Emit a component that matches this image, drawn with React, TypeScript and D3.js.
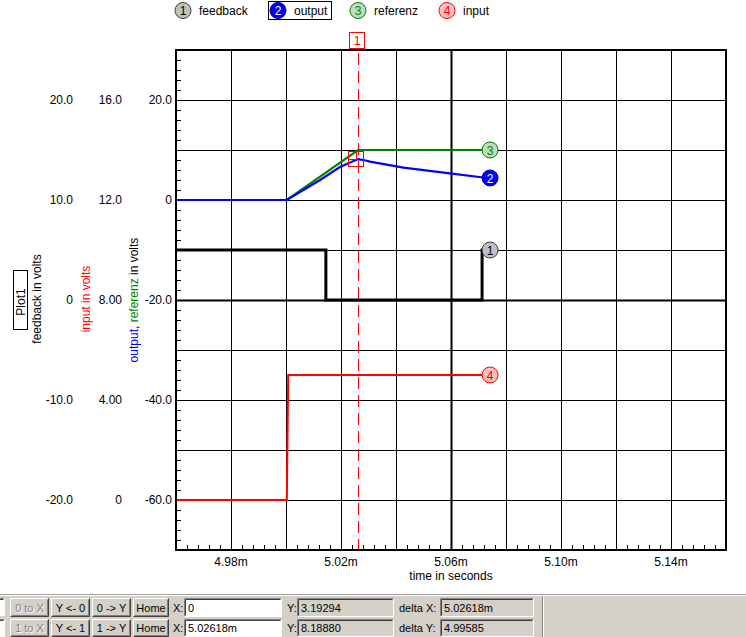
import React from 'react';
import * as d3 from 'd3';

const W = 746, H = 637;
const FONT = '"Liberation Sans", Arial, sans-serif';

// x axis (time in ms)
const xDomain = [4.96, 5.16];
const xTickValues = [4.98, 5.02, 5.06, 5.10, 5.14];
const xTickLabels = ['4.98m', '5.02m', '5.06m', '5.10m', '5.14m'];

// output / referenz axis
const outDomain = [-70, 30];
const outTickValues = [20, 0, -20, -40, -60];
const outTickLabels = ['20.0', '0', '-20.0', '-40.0', '-60.0'];
// input axis
const inDomain = [-2, 18];
const inTickValues = [16, 12, 8, 4, 0];
const inTickLabels = ['16.0', '12.0', '8.00', '4.00', '0'];
// feedback axis
const fbDomain = [-25, 25];
const fbTickValues = [20, 10, 0, -10, -20];
const fbTickLabels = ['20.0', '10.0', '0', '-10.0', '-20.0'];

// series
const feedbackT = [4.96, 5.0145, 5.0145, 5.0713, 5.0713, 5.0742];
const feedbackV = [5, 5, 0, 0, 5, 5];
const inputT = [4.96, 5.0003, 5.0008, 5.0742];
const inputV = [0, 0, 5, 5];
const referenzT = [4.96, 5.0003, 5.0262, 5.0742];
const referenzV = [0, 0, 10, 10];
const outputT = [4.96, 5.0003, 5.0124, 5.0196, 5.0262, 5.0290, 5.0305, 5.0427, 5.0596, 5.0717, 5.0742];
const outputV = [0, 0, 4.0, 6.6, 8.19, 7.9, 7.67, 6.47, 5.33, 4.5, 4.4];

const cursorT = 5.02618;
const cursorOut = 8.1888;

const legendNames = ['feedback', 'output', 'referenz', 'input'];

const L = 176, R = 726, T = 50, B = 550;

const x = d3.scaleLinear().domain(xDomain).range([L, R]);
const yOut = d3.scaleLinear().domain(outDomain).range([B, T]);
const yIn = d3.scaleLinear().domain(inDomain).range([B, T]);
const yFb = d3.scaleLinear().domain(fbDomain).range([B, T]);

const px = (v: number) => Math.round(v) + 0.5;

function Button({ x0, y0, w, h, label, disabled }: any) {
  return (
    <g>
      <rect x={x0} y={y0} width={w} height={h} fill="#d4d0c8" />
      <path d={`M${x0 + 0.5},${y0 + h - 0.5}V${y0 + 0.5}H${x0 + w - 0.5}`} stroke="#ffffff" fill="none" />
      <path d={`M${x0 + 0.5},${y0 + h - 0.5}H${x0 + w - 0.5}V${y0 + 0.5}`} stroke="#404040" fill="none" />
      <path d={`M${x0 + 1.5},${y0 + h - 1.5}H${x0 + w - 1.5}V${y0 + 1.5}`} stroke="#808080" fill="none" />
      {disabled && (
        <text x={x0 + w / 2 + 1} y={y0 + h / 2 + 1} textAnchor="middle" dominantBaseline="central" fontSize={11} fill="#ffffff">{label}</text>
      )}
      <text x={x0 + w / 2} y={y0 + h / 2} textAnchor="middle" dominantBaseline="central" fontSize={11} fill={disabled ? '#808080' : '#000'}>{label}</text>
    </g>
  );
}

function Field({ x0, y0, w, h, value, white }: any) {
  return (
    <g>
      <rect x={x0} y={y0} width={w} height={h} fill={white ? '#ffffff' : '#d4d0c8'} />
      <path d={`M${x0 + 0.5},${y0 + h - 0.5}V${y0 + 0.5}H${x0 + w - 0.5}`} stroke="#808080" fill="none" />
      <path d={`M${x0 + 1.5},${y0 + h - 1.5}V${y0 + 1.5}H${x0 + w - 1.5}`} stroke="#404040" fill="none" />
      <path d={`M${x0 + 0.5},${y0 + h - 0.5}H${x0 + w - 0.5}V${y0 + 0.5}`} stroke="#ffffff" fill="none" />
      <text x={x0 + 4} y={y0 + h / 2} dominantBaseline="central" fontSize={11} fill="#000">{value}</text>
    </g>
  );
}

function Marker({ cx, cy, n, fill, stroke, color }: any) {
  return (
    <g>
      <circle cx={cx} cy={cy} r={8} fill={fill} stroke={stroke} strokeWidth={1} />
      <text x={cx} y={cy + 0.5} textAnchor="middle" dominantBaseline="central" fontSize={12} fill={color}>{n}</text>
    </g>
  );
}

export default function App() {
  const line = (ts: number[], vs: number[], ys: any) =>
    d3.line<number>().x((_, i) => x(ts[i])).y((_, i) => ys(vs[i]))(ts.map((_, i) => i)) as string;

  const xGrid = d3.range(0, 11).map(i => xDomain[0] + i * 0.02);
  const xMinor = d3.range(0, 51).map(i => xDomain[0] + i * 0.004);
  const yGrid = d3.range(0, 11).map(i => outDomain[0] + i * 10);
  const yMinor = d3.range(0, 51).map(i => outDomain[0] + i * 2);

  const cx = x(cursorT);
  const endX = x(outputT[outputT.length - 1]);

  const styles = [
    { fill: '#c0c0c0', stroke: '#404040', color: '#000' },
    { fill: '#0000ff', stroke: '#0000a0', color: '#ffffff' },
    { fill: '#c0dcc0', stroke: '#008000', color: '#008000' },
    { fill: '#ffc0c0', stroke: '#ff0000', color: '#ff0000' },
  ];
  const legendX = [183, 278, 358, 447];

  return (
    <svg width={W} height={H} style={{ position: 'absolute', left: 0, top: 0, fontFamily: FONT }}>
      <rect x={0} y={0} width={W} height={H} fill="#ffffff" />

      {/* legend */}
      {legendNames.map((name, i) => (
        <g key={name}>
          <Marker cx={legendX[i]} cy={10.5} n={i + 1} {...styles[i]} />
          <text x={legendX[i] + 16} y={11} dominantBaseline="central" fontSize={12} fill="#000">{name}</text>
        </g>
      ))}
      <rect x={268.5} y={1.5} width={63} height={18} fill="none" stroke="#000" />

      {/* grid */}
      {xGrid.map((v, i) => (
        <line key={'xg' + i} x1={px(x(v))} x2={px(x(v))} y1={T} y2={B} stroke="#000" strokeWidth={i === 5 ? 2 : 1} />
      ))}
      {yGrid.map((v, i) => (
        <line key={'yg' + i} x1={L} x2={R} y1={px(yOut(v))} y2={px(yOut(v))} stroke="#000" strokeWidth={i === 5 ? 2 : 1} />
      ))}
      {xMinor.map((v, i) => (
        <line key={'xm' + i} x1={px(x(v))} x2={px(x(v))} y1={B} y2={B - 5} stroke="#000" />
      ))}
      {yMinor.map((v, i) => (
        <line key={'ym' + i} x1={L} x2={L + 5} y1={px(yOut(v))} y2={px(yOut(v))} stroke="#000" />
      ))}

      {/* cursor */}
      <line x1={px(cx)} x2={px(cx)} y1={T} y2={B} stroke="#ff0000" strokeDasharray="12 6" strokeDashoffset={-3} />

      {/* traces */}
      <path d={line(feedbackT, feedbackV, yFb)} fill="none" stroke="#000" strokeWidth={3} />
      <path d={line(inputT, inputV, yIn)} fill="none" stroke="#ff0000" strokeWidth={2} />
      <path d={line(referenzT, referenzV, yOut)} fill="none" stroke="#008000" strokeWidth={2.2} />
      <path d={line(outputT, outputV, yOut)} fill="none" stroke="#0000ff" strokeWidth={2.2} />

      {/* cursor boxes */}
      <rect x={Math.round(cx) - 9.5} y={Math.round(yOut(cursorOut)) - 7.5} width={15} height={15} fill="none" stroke="#ff0000" />
      <rect x={Math.round(cx) - 9.5} y={Math.round(yOut(cursorOut)) - 7.5} width={8} height={8} fill="none" stroke="#ff0000" />

      {/* end markers */}
      <Marker cx={endX} cy={yFb(feedbackV[feedbackV.length - 1])} n={1} {...styles[0]} />
      <Marker cx={endX} cy={yOut(outputV[outputV.length - 1])} n={2} {...styles[1]} />
      <Marker cx={endX} cy={yOut(referenzV[referenzV.length - 1])} n={3} {...styles[2]} />
      <Marker cx={endX} cy={yIn(inputV[inputV.length - 1])} n={4} {...styles[3]} />

      {/* frame */}
      <rect x={L} y={T} width={R - L} height={B - T} fill="none" stroke="#000" strokeWidth={2} />

      {/* cursor label */}
      <rect x={Math.round(cx) - 8.5} y={32.5} width={15} height={16} fill="#fff" stroke="#ff0000" />
      <text x={Math.round(cx) - 1} y={41} textAnchor="middle" dominantBaseline="central" fontSize={12} fill="#ff0000">1</text>

      {/* x labels */}
      {xTickValues.map((v, i) => (
        <text key={'xl' + i} x={x(v)} y={562} textAnchor="middle" dominantBaseline="central" fontSize={12} fill="#000">{xTickLabels[i]}</text>
      ))}
      <text x={x(5.06)} y={576} textAnchor="middle" dominantBaseline="central" fontSize={12} fill="#000">time in seconds</text>

      {/* y labels */}
      {outTickValues.map((v, i) => (
        <text key={'yo' + i} x={172} y={yOut(v)} textAnchor="end" dominantBaseline="central" fontSize={12} fill="#000">{outTickLabels[i]}</text>
      ))}
      {inTickValues.map((v, i) => (
        <text key={'yi' + i} x={122} y={yIn(v)} textAnchor="end" dominantBaseline="central" fontSize={12} fill="#000">{inTickLabels[i]}</text>
      ))}
      {fbTickValues.map((v, i) => (
        <text key={'yf' + i} x={73} y={yFb(v)} textAnchor="end" dominantBaseline="central" fontSize={12} fill="#000">{fbTickLabels[i]}</text>
      ))}

      {/* axis titles */}
      <g transform="translate(134,300) rotate(-90)">
        <text x={0} y={0} textAnchor="middle" dominantBaseline="central" fontSize={12}>
          <tspan fill="#0000ff">output, </tspan>
          <tspan fill="#008000">referenz</tspan>
          <tspan fill="#000"> in volts</tspan>
        </text>
      </g>
      <g transform="translate(86,299) rotate(-90)">
        <text x={0} y={0} textAnchor="middle" dominantBaseline="central" fontSize={12} fill="#ff0000">input in volts</text>
      </g>
      <g transform="translate(37,299) rotate(-90)">
        <text x={0} y={0} textAnchor="middle" dominantBaseline="central" fontSize={12} fill="#000">feedback in volts</text>
      </g>
      <rect x={13.5} y={270.5} width={14} height={59} fill="#fff" stroke="#000" />
      <g transform="translate(20.5,302) rotate(-90)">
        <text x={0} y={0} textAnchor="middle" dominantBaseline="central" fontSize={12} fill="#000">Plot1</text>
      </g>

      {/* toolbar */}
      <rect x={0} y={594} width={W} height={H - 594} fill="#d4d0c8" />
      <line x1={0} x2={W} y1={594.5} y2={594.5} stroke="#a0a0a0" />
      <line x1={0} x2={W} y1={595.5} y2={595.5} stroke="#ffffff" />
      <line x1={542.5} x2={542.5} y1={597} y2={H} stroke="#808080" />
      <line x1={543.5} x2={543.5} y1={597} y2={H} stroke="#ffffff" />

      <Field x0={-10} y0={598} w={15} h={18} value="" white />
      <Field x0={-10} y0={619} w={15} h={18} value="" white />

      <Button x0={10} y0={598} w={39} h={19} label="0 to X" disabled />
      <Button x0={51} y0={598} w={39} h={19} label="Y <- 0" />
      <Button x0={92} y0={598} w={39} h={19} label="0 -> Y" />
      <Button x0={133} y0={598} w={36} h={19} label="Home" />
      <text x={173} y={607.5} dominantBaseline="central" fontSize={11}>X:</text>
      <Field x0={184} y0={598} w={98} h={19} value="0" white />
      <text x={287} y={607.5} dominantBaseline="central" fontSize={11}>Y:</text>
      <Field x0={297} y0={598} w={97} h={19} value="3.19294" />
      <text x={399} y={607.5} dominantBaseline="central" fontSize={11}>delta X:</text>
      <Field x0={440} y0={598} w={94} h={19} value="5.02618m" />

      <Button x0={10} y0={619} w={39} h={18} label="1 to X" disabled />
      <Button x0={51} y0={619} w={39} h={18} label="Y <- 1" />
      <Button x0={92} y0={619} w={39} h={18} label="1 -> Y" />
      <Button x0={133} y0={619} w={36} h={18} label="Home" />
      <text x={173} y={628} dominantBaseline="central" fontSize={11}>X:</text>
      <Field x0={184} y0={619} w={98} h={18} value="5.02618m" white />
      <text x={287} y={628} dominantBaseline="central" fontSize={11}>Y:</text>
      <Field x0={297} y0={619} w={97} h={18} value="8.18880" />
      <text x={399} y={628} dominantBaseline="central" fontSize={11}>delta Y:</text>
      <Field x0={440} y0={619} w={94} h={18} value="4.99585" />
    </svg>
  );
}
